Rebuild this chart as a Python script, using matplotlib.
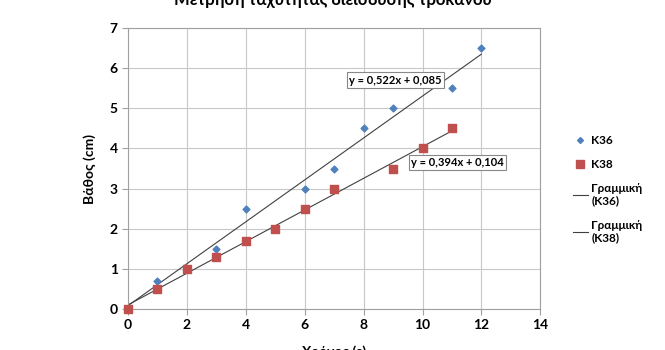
import numpy as np
import matplotlib
matplotlib.use("Agg")
import matplotlib.pyplot as plt
from matplotlib.lines import Line2D

plt.rcParams["font.family"] = ["Lato", "DejaVu Sans"]

# penetration depth measurements
t36 = [0, 1, 2, 3, 4, 6, 7, 8, 9, 11, 12]
d36 = [0, 0.7, 1.0, 1.5, 2.5, 3.0, 3.5, 4.5, 5.0, 5.5, 6.5]
t38 = [0, 1, 2, 3, 4, 5, 6, 7, 9, 10, 11]
d38 = [0, 0.5, 1.0, 1.3, 1.7, 2.0, 2.5, 3.0, 3.5, 4.0, 4.5]

# linear trend coefficients (slope, intercept)
fit36 = (0.522, 0.085)
fit38 = (0.394, 0.104)

fig = plt.figure(figsize=(6.65, 3.5), dpi=100)
ax = fig.add_axes([0.1925, 0.117, 0.62, 0.803])

ax.scatter(t36, d36, marker="D", s=12, color="#4F81BD", zorder=3, clip_on=False)
ax.scatter(t38, d38, marker="s", s=34, color="#C0504D", zorder=3, clip_on=False)

x36 = np.array([0, max(t36)])
x38 = np.array([0, max(t38)])
ax.plot(x36, fit36[0] * x36 + fit36[1], color="#404040", lw=0.8, zorder=2)
ax.plot(x38, fit38[0] * x38 + fit38[1], color="#404040", lw=0.8, zorder=2)

box = dict(boxstyle="square,pad=0.2", fc="white", ec="#888888", lw=0.8)
ax.text(7.5, 5.7, "y = 0,522x + 0,085", fontsize=8, fontweight="bold",
        va="center", bbox=box)
ax.text(9.6, 3.65, "y = 0,394x + 0,104", fontsize=8, fontweight="bold",
        va="center", bbox=box)

ax.set_xlim(0, 14)
ax.set_ylim(0, 7)
ax.set_xticks(range(0, 15, 2))
ax.set_yticks(range(0, 8))
ax.grid(True, color="#C8C8C8", lw=0.8)
ax.set_axisbelow(True)
for s in ax.spines.values():
    s.set_color("#A0A0A0")
    s.set_linewidth(0.8)
ax.tick_params(colors="#A0A0A0", labelcolor="black", length=4, width=0.8)
for lab in ax.get_xticklabels() + ax.get_yticklabels():
    lab.set_fontweight("bold")
    lab.set_fontsize(10)

ax.set_ylabel("Βάθος (cm)", fontsize=10, fontweight="bold", labelpad=10)
ax.set_xlabel("Χρόνος (s)", fontsize=10, fontweight="bold", labelpad=10)
fig.text(0.5, 1.0, "Μέτρηση ταχύτητας διείσδυσης τρόκανου", ha="center",
         va="center", fontsize=12, fontweight="bold")

handles = [
    Line2D([], [], ls="", marker="D", ms=3, color="#4F81BD"),
    Line2D([], [], ls="", marker="s", ms=6, color="#C0504D"),
    Line2D([], [], color="#404040", lw=0.8),
    Line2D([], [], color="#404040", lw=0.8),
]
labels = ["K36", "K38", "Γραμμική\n(K36)", "Γραμμική\n(K38)"]
leg = fig.legend(handles, labels, loc="upper left", bbox_to_anchor=(0.845, 0.645),
                 frameon=False, fontsize=8.5, handlelength=1.3, handletextpad=0.3,
                 labelspacing=1.1)
for t in leg.get_texts():
    t.set_fontweight("bold")

fig.savefig("out.png", dpi=100)
